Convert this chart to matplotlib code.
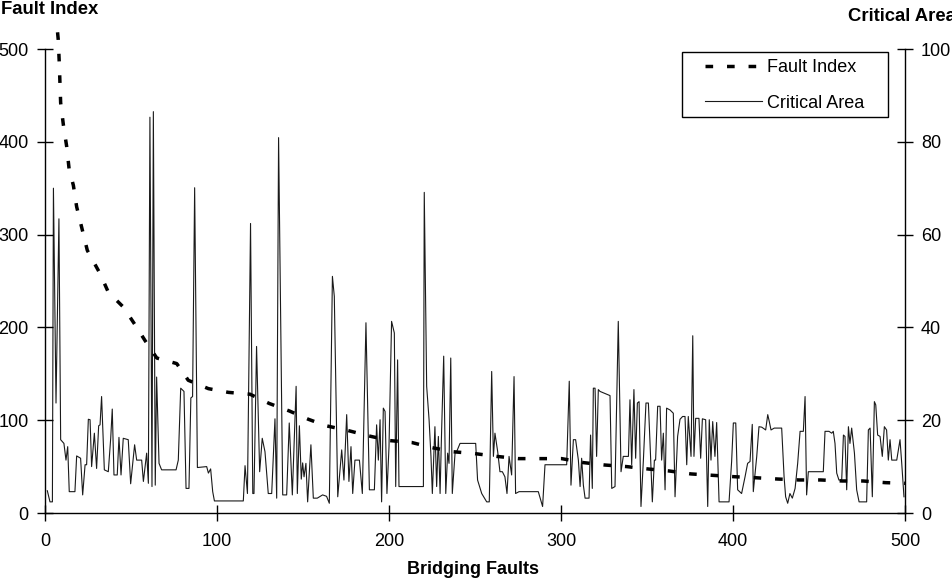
import matplotlib
matplotlib.use("Agg")
import matplotlib.pyplot as plt
from matplotlib.patches import Rectangle
from matplotlib.lines import Line2D

plt.rcParams['font.family'] = ['Liberation Sans', 'DejaVu Sans']

# ---------------- data ----------------
# Fault Index (left axis), vertices of the dashed curve
fi_x = [7.3, 7.7, 8.3, 8.7, 9.1, 10.7, 12.6, 14.0, 16.5, 18.4, 21.3, 24.6, 32.0, 36.8,
        45.5, 52.3, 58.1, 65.0, 76.6, 83.3, 95.0, 106.6, 119.2, 130.4, 142.0, 153.1,
        163.4, 175.9, 188.4, 200.6, 213.2, 224.8, 237.4, 249.9, 262.6, 275.2, 287.8,
        300.4, 313.0, 325.5, 338.2, 350.8, 362.8, 375.6, 388.2, 400.8, 413.2, 426.0,
        438.3, 450.9, 463.5, 475.6, 488.6, 500.0]
fi_y = [518, 510, 485, 463, 442, 418, 395, 371, 353, 330, 308, 283, 258, 238,
        222, 203, 186, 167, 161, 143, 134, 130, 128, 118, 110, 101,
        94, 89, 83, 78, 76, 70.5, 66, 64, 61, 58.6, 58.6,
        58.6, 54.3, 51.7, 50, 47.4, 45.3, 42.1, 40.6, 39.1, 38, 36.6,
        35.6, 35.6, 34.5, 34.5, 32.7, 32]

# Critical Area (right axis), vertices of the thin line
ca_x = [1.35, 2.9, 4.3, 4.9, 6.4, 8.1, 9.1, 11.0, 12.2, 13.2, 14.1, 17.4, 18.4, 20.7,
        21.9, 23.3, 24.2, 25.2, 26.2, 27.1, 28.7, 30.0, 31.2, 32.0, 32.9, 34.5, 36.8,
        38.2, 39.1, 40.1, 42.0, 43.0, 44.2, 45.5, 48.4, 49.8, 52.1, 53.3, 56.2, 57.2,
        59.1, 60.1, 61.0, 62.2, 63.0, 64.1, 64.9, 66.3, 67.8, 76.2, 77.5, 78.9, 80.8,
        82.0, 83.7, 84.8, 85.8, 87.0, 88.6, 94.0, 95.0, 96.3, 97.5, 98.5, 115.3, 116.3,
        117.7, 119.5, 120.8, 121.5, 123.0, 124.8, 126.3, 127.9, 129.8, 131.8, 133.7,
        134.7, 135.8, 138.2, 140.5, 142.0, 143.8, 146.0, 146.7, 147.9, 149.0, 149.8,
        150.6, 151.7, 152.7, 154.6, 156.0, 158.3, 161.4, 163.7, 165.3, 167.1, 168.2,
        170.2, 172.5, 173.8, 175.4, 176.7, 177.9, 178.9, 180.2, 182.8, 184.5, 186.6,
        188.6, 191.5, 192.8, 193.8, 194.8, 195.7, 196.7, 197.7, 198.8, 200.0, 201.5,
        203.1, 203.9, 205.0, 205.8, 220.0, 220.5, 221.9, 223.3, 224.4, 225.2, 226.7,
        227.7, 228.7, 229.7, 230.6, 231.8, 233.0, 234.1, 234.9, 235.9, 236.8, 238.4,
        239.3, 241.3, 250.4, 251.5, 253.9, 256.8, 258.3, 259.7, 260.7, 261.6, 263.2,
        264.5, 265.9, 267.4, 268.6, 269.8, 271.3, 272.7, 273.6, 275.6, 286.8, 288.2,
        289.3, 290.7, 303.3, 304.8, 305.8, 307.2, 308.5, 310.1, 311.1, 312.0, 313.0,
        314.0, 316.3, 317.2, 318.2, 318.8, 319.8, 320.7, 321.7, 322.7, 328.5, 329.5,
        331.4, 333.3, 334.9, 336.2, 339.2, 340.1, 341.1, 342.4, 343.4, 344.4, 345.4,
        346.5, 347.9, 349.4, 350.8, 351.8, 353.1, 354.3, 355.0, 356.2, 357.6, 358.5,
        359.5, 360.5, 361.4, 363.4, 365.3, 366.3, 367.8, 369.2, 370.7, 372.1, 373.1,
        374.0, 375.6, 376.6, 377.3, 378.3, 380.2, 381.2, 382.2, 384.1, 385.3, 386.2,
        387.2, 388.2, 389.5, 390.5, 391.9, 397.7, 399.2, 400.2, 401.6, 402.7, 405.0,
        407.0, 408.5, 409.9, 411.2, 411.8, 413.8, 415.1, 416.7, 419.0, 420.2, 421.1,
        422.1, 424.0, 428.3, 429.7, 430.6, 431.8, 433.1, 434.5, 436.1, 437.6, 439.0,
        440.9, 441.9, 442.8, 443.8, 452.5, 453.5, 455.8, 457.4, 458.3, 459.3, 460.3,
        461.6, 463.2, 464.2, 465.1, 466.1, 467.1, 468.0, 469.0, 470.6, 471.9, 473.3,
        477.7, 478.7, 479.7, 481.0, 482.2, 483.0, 484.1, 485.5, 486.8, 488.0, 489.3,
        490.3, 491.3, 492.3, 495.2, 497.1, 498.1, 499.4]
ca_y = [4.8, 2.4, 2.4, 70.0, 23.7, 63.4, 15.8, 15.0, 11.4, 14.3, 4.6, 4.6, 12.3, 11.8,
        3.9, 10.4, 10.4, 20.2, 20.1, 10.0, 17.2, 9.6, 18.8, 19.0, 25.1, 9.3, 8.9,
        16.1, 22.4, 8.2, 8.2, 16.3, 8.2, 16.1, 15.8, 6.3, 14.7, 11.4, 11.4, 6.8,
        12.9, 6.4, 85.3, 5.7, 86.5, 6.0, 29.3, 10.7, 9.3, 9.3, 11.4, 26.9, 26.2,
        5.3, 5.3, 24.8, 25.1, 70.1, 9.8, 10.0, 8.6, 9.5, 4.6, 2.6, 2.6, 10.2,
        4.2, 62.4, 4.2, 4.2, 35.9, 8.9, 16.1, 13.2, 4.2, 4.2, 20.3,
        3.2, 80.9, 3.9, 3.9, 19.4, 3.9, 27.3, 4.2, 18.8, 7.3, 10.8,
        7.8, 10.7, 2.4, 14.7, 3.2, 3.2, 3.9, 3.6, 2.1, 51.0, 46.7,
        3.5, 13.6, 7.1, 21.2, 6.8, 14.3, 4.2, 11.4, 11.4, 4.2, 41.0,
        5.0, 5.0, 19.0, 11.4, 20.1, 2.4, 22.6, 21.9, 4.2, 14.3, 41.3,
        38.8, 5.7, 33.0, 5.7, 5.7, 69.1, 27.3, 20.1, 12.2, 4.2, 18.6,
        5.7, 16.5, 4.2, 17.9, 33.8, 4.2, 12.9, 10.7, 33.4, 4.2, 12.9,
        13.2, 15.0, 15.0, 7.1, 4.2, 2.4, 2.4, 30.5, 12.2, 17.2, 13.2,
        8.9, 8.9, 7.8, 4.2, 12.2, 8.2, 29.4, 4.2, 4.6, 4.6, 2.8,
        1.4, 10.4, 10.4, 28.4, 6.0, 15.8, 15.8, 11.4, 5.7, 11.8, 6.0,
        3.2, 3.2, 16.8, 5.3, 26.9, 26.9, 12.2, 26.6, 26.2, 25.3, 5.3,
        5.7, 41.3, 8.9, 12.2, 12.2, 24.4, 10.4, 26.6, 11.8, 23.7, 24.0,
        1.4, 11.4, 23.7, 23.7, 14.7, 2.4, 11.4, 11.4, 23.0, 23.0, 11.4,
        17.2, 5.0, 22.6, 22.2, 21.5, 3.5, 16.5, 20.2, 20.8, 20.8, 10.4,
        20.8, 12.2, 38.2, 12.2, 20.4, 20.4, 11.8, 20.3, 20.1, 1.4, 20.1,
        11.4, 19.7, 12.2, 19.5, 2.4, 2.4, 11.1, 19.4, 19.4, 5.0, 4.2,
        7.8, 10.7, 11.1, 19.1, 4.6, 12.2, 18.6, 18.5, 17.9, 21.2, 19.7,
        17.9, 18.3, 18.3, 7.8, 3.5, 2.1, 4.2, 3.2, 5.3, 10.7, 17.6,
        17.6, 25.1, 3.9, 8.9, 8.9, 17.6, 17.6, 17.2, 17.6, 15.0, 8.6,
        7.1, 7.1, 16.8, 16.5, 5.0, 18.6, 15.0, 18.3, 12.9, 5.0, 2.4,
        2.4, 17.9, 18.3, 3.5, 24.0, 23.3, 16.8, 16.5, 12.2, 18.6, 17.9,
        11.4, 15.8, 11.4, 11.4, 15.8, 10.7, 3.5]

x_ticks = [0, 100, 200, 300, 400, 500]
fi_ticks = [0, 100, 200, 300, 400, 500]
ca_ticks = [0, 20, 40, 60, 80, 100]

left_title = "Fault Index"
right_title = "Critical Area"
x_title = "Bridging Faults"
legend_labels = ["Fault Index", "Critical Area"]

# ---------------- figure ----------------
W, H = 953, 581
fig = plt.figure(figsize=(W / 100, H / 100), dpi=100)
ax = fig.add_axes([45 / W, 1 - 513 / H, 860 / W, 464 / H])
ax2 = ax.twinx()

fi_style = dict(color='black', lw=2.5, linestyle=(0, (2.2, 4.0)))
ca_style = dict(color='#1a1a1a', lw=0.8)

ax2.plot(ca_x, ca_y, **ca_style)
ax.plot(fi_x, fi_y, clip_on=False, zorder=3, **fi_style)

ax.set_zorder(ax2.get_zorder() + 1)
ax.patch.set_visible(False)

ax.set_xlim(0, 500)
ax.set_ylim(0, 500)
ax2.set_ylim(0, 100)
ax.set_xticks(x_ticks)
ax.set_yticks(fi_ticks)
ax2.set_yticks(ca_ticks)

for a in (ax, ax2):
    a.spines['top'].set_visible(False)
    for s in ('left', 'right', 'bottom'):
        a.spines[s].set_linewidth(1.0)
ax.spines['right'].set_visible(False)
ax2.spines['left'].set_visible(False)
ax2.spines['bottom'].set_visible(False)

ax.tick_params(axis='x', direction='inout', length=11, width=1, labelsize=13, pad=9)
ax.tick_params(axis='y', direction='inout', length=11, width=1, labelsize=13, pad=6.3)
ax2.tick_params(axis='y', direction='inout', length=11, width=1, labelsize=13, pad=6.0)

# titles
fig.text(1 / W, 1 - 14 / H, left_title, fontsize=13.3, fontweight='bold', ha='left', va='baseline')
fig.text(848 / W, 1 - 20.7 / H, right_title, fontsize=13.3, fontweight='bold', ha='left', va='baseline')
fig.text(473.5 / W, 1 - 570 / H, x_title, fontsize=13, fontweight='bold', ha='center', va='center')

# legend box (axes fraction coordinates)
def fx(px):
    return (px - 45) / 860.0

def fy(py):
    return (513 - py) / 464.0

ax.add_patch(Rectangle((fx(682), fy(117)), fx(888) - fx(682), fy(52) - fy(117),
                       transform=ax.transAxes, facecolor='white', edgecolor='black',
                       lw=1.0, zorder=10, clip_on=False))
rows = [(66, fi_style), (101, ca_style)]
for (py, st), lab in zip(rows, legend_labels):
    ax.add_line(Line2D([fx(705), fx(762)], [fy(py), fy(py)], transform=ax.transAxes,
                       zorder=11, clip_on=False, **st))
    ax.text(fx(767), fy(py + 2), lab, transform=ax.transAxes, fontsize=13,
            ha='left', va='center', zorder=11)

fig.savefig('out.png', dpi=100)
